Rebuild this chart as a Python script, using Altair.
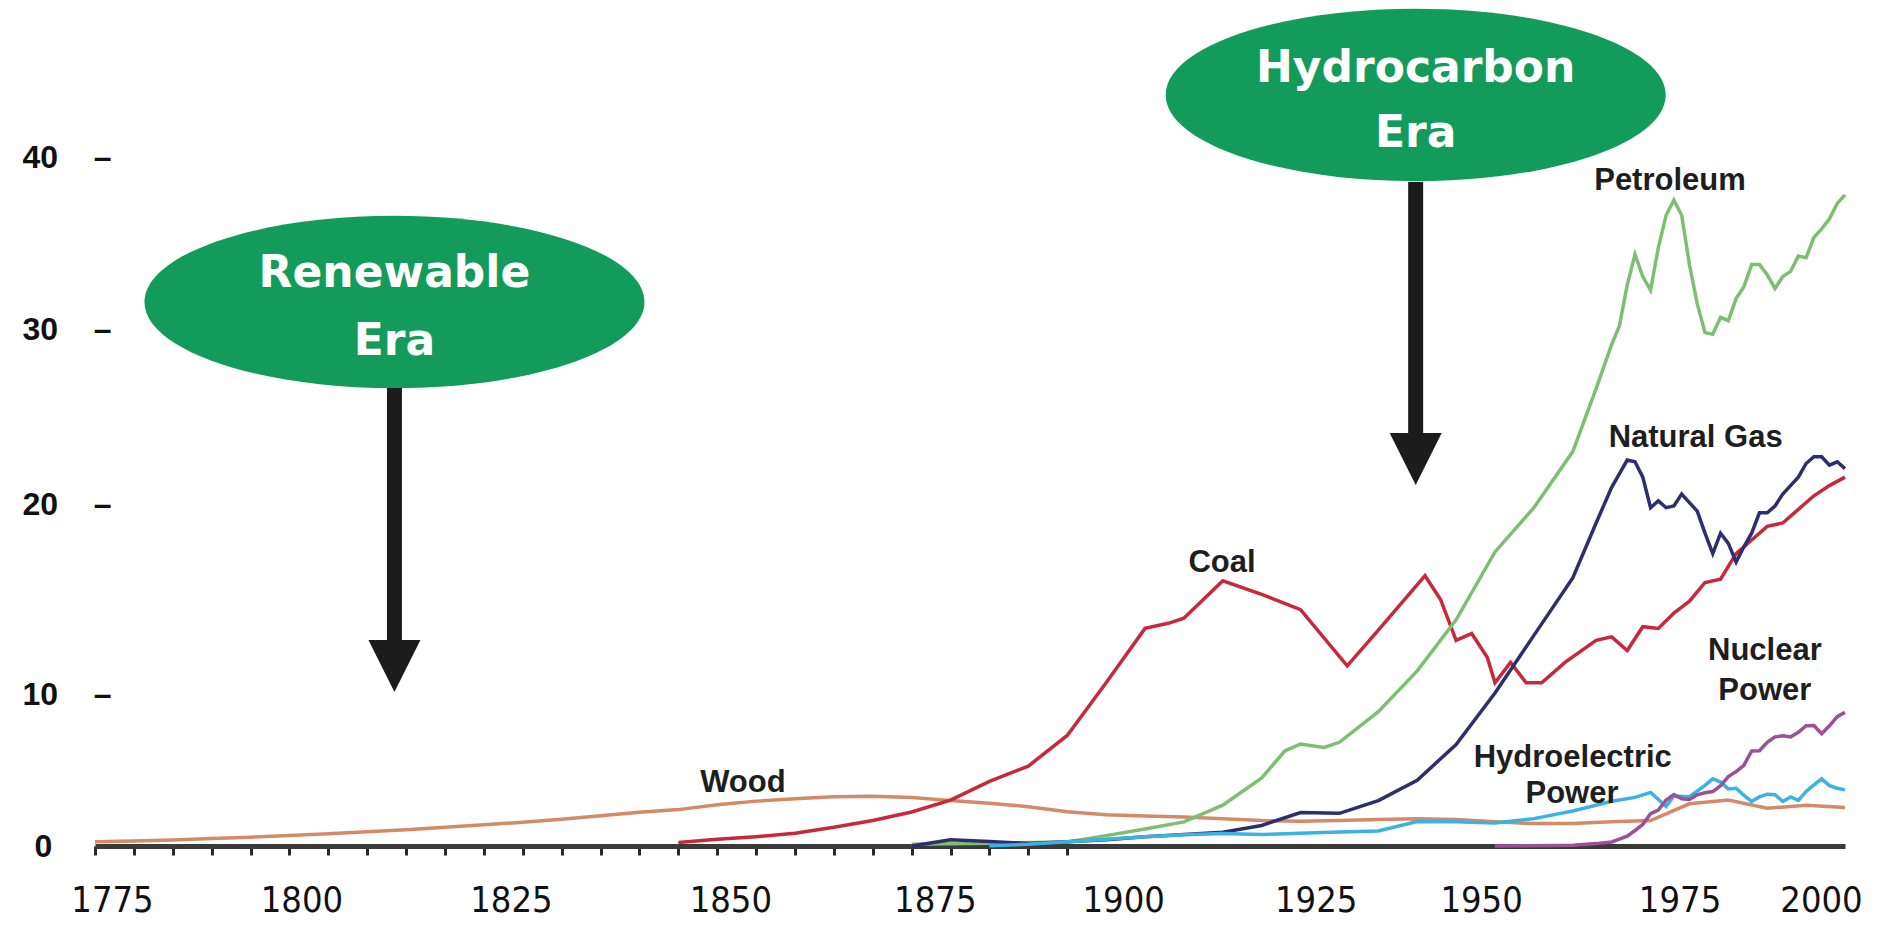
import altair as alt
import pandas as pd

# ---------------- data (quadrillion Btu) ----------------
wood_years = list(range(1775, 2001, 5))
wood_vals = [0.25, 0.30, 0.36, 0.44, 0.52, 0.62, 0.72, 0.84, 0.96, 1.10,
             1.25, 1.40, 1.58, 1.78, 1.98, 2.14, 2.42, 2.64, 2.78, 2.89,
             2.92, 2.85, 2.68, 2.52, 2.31, 2.02, 1.84, 1.77, 1.70, 1.61,
             1.50, 1.46, 1.50, 1.56, 1.60, 1.56, 1.42, 1.32, 1.33, 1.43,
             1.50, 2.48, 2.70, 2.22, 2.40, 2.26]

coal_years = [1850, 1855, 1860, 1865, 1870, 1875, 1880, 1885, 1890, 1895, 1900,
              1905, 1910, 1913, 1915, 1920, 1925, 1930, 1936, 1940, 1946, 1948,
              1950, 1952, 1954, 1955, 1957, 1959, 1961, 1964, 1968, 1970, 1972,
              1974, 1976, 1978, 1980, 1982, 1984, 1986, 1988, 1990, 1992, 1994,
              1996, 1998, 2000]
coal_vals = [0.20, 0.40, 0.55, 0.75, 1.10, 1.50, 2.00, 2.70, 3.80, 4.70, 6.50,
             9.60, 12.80, 13.10, 13.40, 15.60, 14.80, 13.90, 10.60, 12.70, 15.90, 14.50,
             12.10, 12.50, 11.10, 9.60, 10.80, 9.60, 9.60, 10.80, 12.10, 12.30, 11.50,
             12.90, 12.80, 13.70, 14.40, 15.50, 15.70, 17.20, 18.00, 18.80, 19.00, 19.80,
             20.60, 21.20, 21.70]

petro_years = [1880, 1890, 1900, 1905, 1910, 1915, 1920, 1925, 1928, 1930, 1933,
               1935, 1940, 1945, 1950, 1955, 1960, 1965, 1968, 1970, 1971, 1972,
               1973, 1974, 1975, 1976, 1977, 1978, 1979, 1980, 1981, 1982, 1983,
               1984, 1985, 1986, 1987, 1988, 1989, 1990, 1991, 1992, 1993, 1994,
               1995, 1996, 1997, 1998, 1999, 2000]
petro_vals = [0.10, 0.16, 0.23, 0.61, 1.00, 1.42, 2.40, 4.00, 5.60, 6.00, 5.80,
              6.10, 7.90, 10.30, 13.30, 17.30, 19.90, 23.20, 26.90, 29.50, 30.60, 33.00,
              34.80, 33.50, 32.70, 35.20, 37.10, 38.00, 37.10, 34.20, 31.90, 30.20, 30.10,
              31.10, 30.90, 32.20, 32.90, 34.20, 34.20, 33.60, 32.80, 33.50, 33.80, 34.70,
              34.60, 35.80, 36.30, 36.90, 37.80, 38.30]

gas_years = [1880, 1885, 1890, 1895, 1900, 1905, 1910, 1915, 1920, 1925, 1930,
             1935, 1940, 1945, 1950, 1955, 1960, 1965, 1968, 1970, 1972, 1973,
             1974, 1975, 1976, 1977, 1978, 1979, 1980, 1981, 1982, 1983, 1984,
             1985, 1986, 1987, 1988, 1989, 1990, 1991, 1992, 1993, 1994, 1995,
             1996, 1997, 1998, 1999, 2000]
gas_vals = [0.00, 0.37, 0.26, 0.15, 0.25, 0.37, 0.54, 0.67, 0.81, 1.21, 1.97,
            1.92, 2.67, 3.87, 5.97, 9.00, 12.39, 15.77, 19.00, 21.10, 22.70, 22.60,
            21.70, 19.90, 20.30, 19.90, 20.00, 20.70, 20.20, 19.70, 18.40, 17.20, 18.40,
            17.80, 16.70, 17.60, 18.40, 19.60, 19.60, 20.00, 20.70, 21.20, 21.70, 22.50,
            22.90, 22.90, 22.40, 22.60, 22.20]

hydro_years = [1890, 1895, 1900, 1905, 1910, 1915, 1920, 1925, 1930, 1935, 1940,
               1945, 1950, 1955, 1960, 1965, 1970, 1973, 1975, 1977, 1978, 1980,
               1982, 1983, 1984, 1985, 1986, 1987, 1988, 1989, 1990, 1991, 1992,
               1993, 1994, 1995, 1996, 1997, 1998, 1999, 2000]
hydro_vals = [0.02, 0.10, 0.25, 0.39, 0.54, 0.66, 0.74, 0.67, 0.75, 0.83, 0.88,
              1.44, 1.42, 1.36, 1.61, 2.06, 2.63, 2.86, 3.15, 2.33, 2.94, 2.90,
              3.57, 3.95, 3.76, 3.36, 3.40, 2.98, 2.63, 2.89, 3.05, 3.02, 2.62,
              2.89, 2.68, 3.21, 3.59, 3.95, 3.55, 3.40, 3.30]

nuclear_years = [1955, 1960, 1965, 1968, 1970, 1971, 1972, 1973, 1974, 1975, 1976,
                 1977, 1978, 1979, 1980, 1981, 1982, 1983, 1984, 1985, 1986, 1987,
                 1988, 1989, 1990, 1991, 1992, 1993, 1994, 1995, 1996, 1997, 1998,
                 1999, 2000]
nuclear_vals = [0.00, 0.01, 0.04, 0.14, 0.24, 0.41, 0.58, 0.91, 1.27, 1.90, 2.11,
                2.70, 3.02, 2.78, 2.74, 3.01, 3.13, 3.20, 3.55, 4.08, 4.38, 4.75,
                5.59, 5.60, 6.10, 6.42, 6.48, 6.41, 6.69, 7.08, 7.09, 6.60, 7.07,
                7.61, 7.86]

series_names = ["Wood", "Coal", "Petroleum", "Natural Gas", "Hydroelectric Power", "Nuclear Power"]
series_colors = ["#d48a66", "#c8283c", "#7cbf72", "#2c2e6e", "#3cb2e4", "#9c5096"]

# series labels (text, year, value of baseline)
label_texts = ["Petroleum", "Natural Gas", "Coal", "Wood", "Hydroelectric", "Power", "Nuclear", "Power"]
label_years = [1977.5, 1980.8, 1919.9, 1858.3, 1965.0, 1964.9, 1989.7, 1989.7]
label_values = [38.59, 23.47, 16.12, 3.18, 4.65, 2.53, 10.94, 8.59]

# era ovals and arrows
era_years = [1813.5, 1944.8]
era_values = [32.0, 44.18]
era_text = ["Renewable", "Era", "Hydrocarbon", "Era"]
era_text_years = [1813.5, 1813.5, 1944.8, 1944.8]
era_text_values = [32.88, 28.88, 44.94, 41.12]
arrow_years = [1813.5, 1944.8]
arrow_top = [26.94, 39.06]
arrow_bottom = [11.6, 23.7]
arrow_head = [10.59, 22.76]

tick_values = [0, 10, 20, 30, 40]
x_tick_years = list(range(1775, 2001, 5))
x_label_years = [1775, 1800, 1825, 1850, 1875, 1900, 1925, 1950, 1975, 2000]
x_label_shift = [17, 12, 27, 52, 62, 56, 54, 25, 29, -24]   # where the printed labels sit
y_label_shift = [0, 18, -2, -7, -9]

# ---------------- build tables ----------------
rows = []
for name, ys, vs in [("Wood", wood_years, wood_vals), ("Coal", coal_years, coal_vals),
                     ("Petroleum", petro_years, petro_vals), ("Natural Gas", gas_years, gas_vals),
                     ("Hydroelectric Power", hydro_years, hydro_vals),
                     ("Nuclear Power", nuclear_years, nuclear_vals)]:
    for y, v in zip(ys, vs):
        rows.append({"series": name, "year": y, "value": v})
lines_df = pd.DataFrame(rows)
labels_df = pd.DataFrame({"text": label_texts, "year": label_years, "value": label_values})
ovals_df = pd.DataFrame({"year": era_years, "value": era_values})
era_text_df = pd.DataFrame({"text": era_text, "year": era_text_years, "value": era_text_values})
shaft_df = pd.DataFrame({"year": arrow_years, "value": arrow_top, "value2": arrow_bottom})
head_df = pd.DataFrame({"year": arrow_years, "value": arrow_head})

x_offset_cond = {
    "condition": [{"test": f"datum.value == {yr}", "value": s} for yr, s in zip(x_label_years, x_label_shift)],
    "value": 0,
}
y_offset_cond = {
    "condition": [{"test": f"datum.value == {v}", "value": s} for v, s in zip(tick_values, y_label_shift)],
    "value": 0,
}

x_enc = alt.X(
    "year:Q",
    scale=alt.Scale(domain=[1775, 2000], nice=False, zero=False),
    axis=alt.Axis(
        values=x_tick_years, format="d", title=None, grid=False,
        labelExpr="datum.value % 25 == 0 ? datum.label : ''",
        domainColor="#3a3a3a", domainWidth=5,
        tickColor="#2a2a2a", tickWidth=3, tickSize=9,
        tickOpacity={"condition": {"test": "datum.value <= 1900", "value": 1}, "value": 0},
        labelOffset=x_offset_cond,
        labelPadding=28, labelFont="Liberation Sans Narrow, DejaVu Sans Condensed, sans-serif",
        labelFontSize=36, labelColor="#111111", labelOverlap=False, labelFlush=False,
    ),
)
y_enc = alt.Y(
    "value:Q",
    scale=alt.Scale(domain=[0, 40], nice=False, zero=True),
    axis=alt.Axis(
        values=tick_values, title=None, grid=False, domain=False, ticks=False, tickSize=0,
        labelPadding={"condition": {"test": "datum.value == 0", "value": 61}, "value": 73},
        labelAlign="left", labelFont="Liberation Sans",
        labelFontWeight="bold", labelFontSize=32, labelColor="#111111",
        labelOffset=y_offset_cond,
        labelExpr="datum.value == 0 ? '0' : datum.label + '\u00a0\u00a0\u00a0\u00a0\u2013'",
    ),
)

lines = alt.Chart(lines_df).mark_line(strokeWidth=3.5).encode(
    x=x_enc, y=y_enc,
    color=alt.Color("series:N", scale=alt.Scale(domain=series_names, range=series_colors), legend=None),
    detail="series:N",
)

labels = alt.Chart(labels_df).mark_text(
    font="Liberation Sans", fontWeight="bold", fontSize=31, color="#1e1e1e",
    align="center", baseline="alphabetic",
).encode(x=x_enc, y=y_enc, text="text:N")

ellipse_path = "M -1 0 A 1 0.345 0 1 1 1 0 A 1 0.345 0 1 1 -1 0 Z"
ovals = alt.Chart(ovals_df).mark_point(
    shape=ellipse_path, size=500 * 500, filled=True, opacity=1, color="#139b5b", strokeWidth=0,
).encode(x=x_enc, y=y_enc)

era_labels = alt.Chart(era_text_df).mark_text(
    font="DejaVu Sans", fontWeight="bold", fontSize=44, color="#ffffff",
    align="center", baseline="alphabetic",
).encode(x=x_enc, y=y_enc, text="text:N")

shafts = alt.Chart(shaft_df).mark_rule(strokeWidth=15, color="#1c1c1c").encode(
    x=x_enc, y=y_enc, y2="value2:Q"
)

head_path = "M -1 -1 L 1 -1 L 0 1 Z"
heads = alt.Chart(head_df).mark_point(
    shape=head_path, size=52 * 52, filled=True, opacity=1, color="#1c1c1c", strokeWidth=0,
).encode(x=x_enc, y=y_enc)

chart = alt.layer(lines, labels, ovals, era_labels, shafts, heads).properties(
    width=1750, height=680,
    padding={"left": 87, "top": 158, "right": 25, "bottom": 80},
    autosize=alt.AutoSizeParams(type="none"),
    background="white",
).configure_view(stroke=None)

chart.save("out.html", embed_options={"renderer": "svg", "actions": False})
